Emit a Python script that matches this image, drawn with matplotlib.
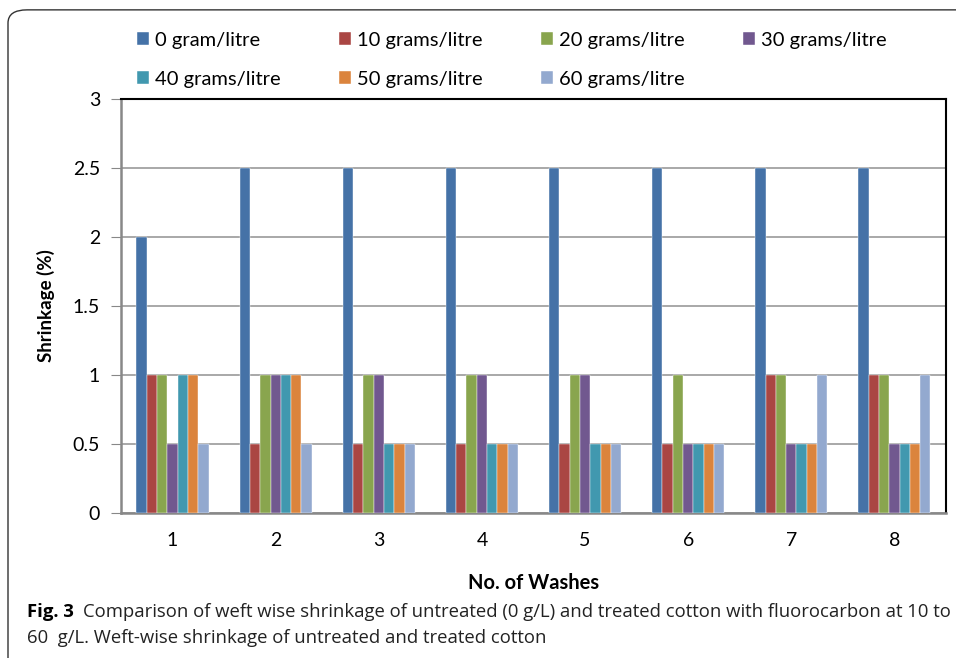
import matplotlib.pyplot as plt
from matplotlib.patches import FancyBboxPatch
import numpy as np

washes = ['1', '2', '3', '4', '5', '6', '7', '8']
series = ['0 gram/litre', '10 grams/litre', '20 grams/litre', '30 grams/litre',
          '40 grams/litre', '50 grams/litre', '60 grams/litre']
g0 = [2, 2.5, 2.5, 2.5, 2.5, 2.5, 2.5, 2.5]
g10 = [1, 0.5, 0.5, 0.5, 0.5, 0.5, 1, 1]
g20 = [1, 1, 1, 1, 1, 1, 1, 1]
g30 = [0.5, 1, 1, 1, 1, 0.5, 0.5, 0.5]
g40 = [1, 1, 0.5, 0.5, 0.5, 0.5, 0.5, 0.5]
g50 = [1, 1, 0.5, 0.5, 0.5, 0.5, 0.5, 0.5]
g60 = [0.5, 0.5, 0.5, 0.5, 0.5, 0.5, 1, 1]
values = [g0, g10, g20, g30, g40, g50, g60]
colors = ['#4572A7', '#AA4643', '#89A54E', '#71588F', '#4198AF', '#DB843D', '#93A9CF']

plt.rcParams['font.family'] = ['Lato', 'DejaVu Sans']

fig = plt.figure(figsize=(9.56, 6.58), dpi=100)
ax = fig.add_axes([0.1266, 0.2204, 0.8629, 0.6291])

x = np.arange(len(washes))
w = 0.1
bars = []
for i, (name, vals) in enumerate(zip(series, values)):
    b = ax.bar(x + (i - 3) * w, vals, w, color=colors[i], label=name,
               edgecolor='white', linewidth=0.3, zorder=3)
    bars.append(b)

ax.set_xlim(-0.5, len(washes) - 0.5)
ax.set_ylim(0, 3)
ax.set_yticks([0, 0.5, 1, 1.5, 2, 2.5, 3])
ax.set_yticklabels(['0', '0.5', '1', '1.5', '2', '2.5', '3'])
ax.set_xticks(x)
ax.set_xticklabels(washes)
ax.tick_params(axis='y', length=7, color='#888888', labelsize=14, pad=8)
ax.tick_params(axis='x', length=0, labelsize=14, pad=14)
ax.grid(axis='y', color='#999999', linewidth=1.2, zorder=0)
for s in ['left', 'bottom']:
    ax.spines[s].set_color('#888888')
    ax.spines[s].set_linewidth(1.8)
for s in ['top', 'right']:
    ax.spines[s].set_color('black')
    ax.spines[s].set_linewidth(1.5)

ax.set_ylabel('Shrinkage (%)', fontsize=13.5, fontweight='bold', labelpad=13)
ax.set_xlabel('No. of Washes', fontsize=14.5, fontweight='bold', labelpad=17)

# legend filled row by row like the original
order = [0, 4, 1, 5, 2, 6, 3]
fig.legend([bars[i] for i in order], [series[i] for i in order],
           loc='upper left', bbox_to_anchor=(0.143, 0.952), ncol=4, frameon=False,
           fontsize=14.5, handlelength=0.6, handleheight=0.6, handletextpad=0.3,
           columnspacing=2.9, labelspacing=1.1, borderaxespad=0, borderpad=0)

# outer frame
frame = FancyBboxPatch((8 / 956, -0.05), 1.2, 1.035, boxstyle='round,pad=0,rounding_size=0.02',
                       transform=fig.transFigure, fill=False, edgecolor='#333333', linewidth=1.0,
                       clip_on=False)
fig.patches.append(frame)

cap = ['Open Sans', 'DejaVu Sans']
fig.text(27 / 956, 1 - 612 / 658, 'Fig. 3', fontsize=13.3, fontweight='bold', va='center',
         family=cap)
fig.text(83 / 956, 1 - 612 / 658,
         'Comparison of weft wise shrinkage of untreated (0 g/L) and treated cotton with fluorocarbon at 10 to',
         fontsize=13.3, va='center', family=cap, color='#222222')
fig.text(27 / 956, 1 - 638 / 658,
         '60  g/L. Weft-wise shrinkage of untreated and treated cotton',
         fontsize=13.3, va='center', family=cap, color='#222222')

fig.savefig('out.png', dpi=100)
